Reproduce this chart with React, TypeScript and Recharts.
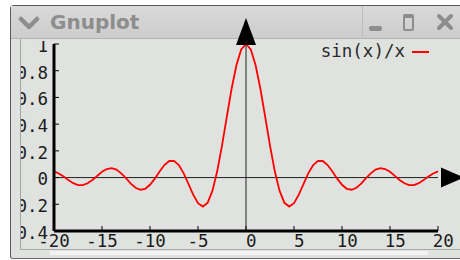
import React from 'react';
import { LineChart, Line, XAxis, YAxis, ReferenceLine, ReferenceDot } from 'recharts';

// samples of sin(x)/x
const X_VALUES = [
  -20, -19.5, -19, -18.5, -18, -17.5, -17, -16.5, -16, -15.5,
  -15, -14.5, -14, -13.5, -13, -12.5, -12, -11.5, -11, -10.5,
  -10, -9.5, -9, -8.5, -8, -7.5, -7, -6.5, -6, -5.5,
  -5, -4.5, -4, -3.5, -3, -2.5, -2, -1.5, -1, -0.5,
  0,
  0.5, 1, 1.5, 2, 2.5, 3, 3.5, 4, 4.5, 5,
  5.5, 6, 6.5, 7, 7.5, 8, 8.5, 9, 9.5, 10,
  10.5, 11, 11.5, 12, 12.5, 13, 13.5, 14, 14.5, 15,
  15.5, 16, 16.5, 17, 17.5, 18, 18.5, 19, 19.5, 20,
];
const SINC_VALUES = [
  0.046, 0.031, 0.008, -0.019, -0.042, -0.056, -0.057, -0.043, -0.018, 0.013,
  0.043, 0.064, 0.071, 0.060, 0.032, -0.005, -0.045, -0.076, -0.091, -0.084,
  -0.054, -0.008, 0.046, 0.094, 0.124, 0.125, 0.094, 0.033, -0.047, -0.128,
  -0.192, -0.217, -0.189, -0.100, 0.047, 0.239, 0.455, 0.665, 0.841, 0.959,
  1,
  0.959, 0.841, 0.665, 0.455, 0.239, 0.047, -0.100, -0.189, -0.217, -0.192,
  -0.128, -0.047, 0.033, 0.094, 0.125, 0.124, 0.094, 0.046, -0.008, -0.054,
  -0.084, -0.091, -0.076, -0.045, -0.005, 0.032, 0.060, 0.071, 0.064, 0.043,
  0.013, -0.018, -0.043, -0.057, -0.056, -0.042, -0.019, 0.008, 0.031, 0.046,
];
const X_TICKS = [-20, -15, -10, -5, 0, 5, 10, 15, 20];
const Y_TICKS = [-0.4, -0.2, 0, 0.2, 0.4, 0.6, 0.8, 1];
const SERIES_NAME = 'sin(x)/x';
const WINDOW_TITLE = 'Gnuplot';

const data = X_VALUES.map((x, i) => ({ x, y: SINC_VALUES[i] }));

const MONO = '"DejaVu Sans Mono", monospace';
const LABEL = '#1c1c1c';
const ICON = '#8d8d8d';

// gnuplot's "% h" format pads positive numbers with a space
const fmt = (v: number) => {
  const r = Math.round(v * 10) / 10;
  return r < 0 ? String(r) : '\u00a0' + r;
};

const XTick = (props: any) => {
  const { x, y, payload } = props;
  const axisY = y - 4;
  return (
    <g>
      <line x1={x} x2={x} y1={axisY} y2={axisY - 5} stroke="#000" />
      <text x={x} y={y} dy="0.71em" textAnchor="middle" fontFamily={MONO} fontSize={17.5} fill={LABEL}>
        {fmt(payload.value)}
      </text>
    </g>
  );
};

const YTick = (props: any) => {
  const { x, y, payload, index } = props;
  const axisX = x + 6;
  const id = `ylab-${index}`;
  return (
    <g>
      <defs>
        <clipPath id={id}>
          <rect x={21} y={41} width={60} height={220} />
        </clipPath>
      </defs>
      <line x1={axisX} x2={axisX + 5} y1={y} y2={y} stroke="#000" />
      <text x={x} y={y} dy="0.45em" textAnchor="end" fontFamily={MONO} fontSize={17.5} fill={LABEL} clipPath={`url(#${id})`}>
        {fmt(payload.value)}
      </text>
    </g>
  );
};

const TopTick = (props: any) => {
  const { x, y } = props;
  return <line x1={x} x2={x} y1={y} y2={y + 5} stroke="#000" />;
};

const RightTick = (props: any) => {
  const { x, y } = props;
  return <line x1={x} x2={x - 5} y1={y} y2={y} stroke="#000" />;
};

const UpArrow = (props: any) => {
  const { cx, cy } = props;
  return <polygon points={`${cx - 10},${cy + 1} ${cx + 10},${cy + 1} ${cx},${cy - 26}`} fill="#000" />;
};

const RightArrow = (props: any) => {
  const { cx, cy } = props;
  return <polygon points={`${cx + 3},${cy - 10} ${cx + 3},${cy + 10} ${cx + 26},${cy}`} fill="#000" />;
};

const abs = (s: React.CSSProperties): React.CSSProperties => ({ position: 'absolute', ...s });

export default function App() {
  return (
    <div style={abs({ left: 0, top: 0, width: 460, height: 260, background: '#fff', overflow: 'hidden' })}>
      {/* window frame */}
      <div style={abs({ left: 10, top: 5, width: 460, height: 252, background: '#dfe2df', borderLeft: '1px solid #5a5a5a', borderTop: '1px solid #5a5a5a', borderBottom: '1px solid #6a6a6a', borderTopLeftRadius: 4, borderBottomLeftRadius: 3 })} />
      <div style={abs({ left: 11, top: 6, width: 449, height: 32, background: 'linear-gradient(#d9d9d9, #cdcdcd)', borderBottom: '1px solid #b3b3b3' })} />
      <svg width={22} height={14} style={abs({ left: 18, top: 16 })}>
        <polyline points="3,3 11,11 19,3" fill="none" stroke={ICON} strokeWidth={4.5} strokeLinecap="round" strokeLinejoin="round" />
      </svg>
      <div style={abs({ left: 50, top: 8, fontFamily: '"DejaVu Sans", sans-serif', fontWeight: 'bold', fontSize: 20, lineHeight: '28px', color: ICON })}>
        {WINDOW_TITLE}
      </div>
      <div style={abs({ left: 362, top: 6, width: 1, height: 32, background: '#bdbdbd' })} />
      <div style={abs({ left: 369, top: 26, width: 13, height: 5, background: ICON, borderRadius: 2 })} />
      <div style={abs({ left: 403, top: 14, width: 7, height: 11, border: `2px solid ${ICON}`, borderTopWidth: 4, borderRadius: 2 })} />
      <svg width={18} height={18} style={abs({ left: 436, top: 13 })}>
        <path d="M3,3 L15,15 M15,3 L3,15" stroke={ICON} strokeWidth={4} strokeLinecap="round" />
      </svg>
      <div style={abs({ left: 20, top: 39, width: 1, height: 210, background: '#a3a3a3' })} />
      <div style={abs({ left: 20, top: 249, width: 440, height: 1, background: '#a8a8a8' })} />
      <div style={abs({ left: 50, top: 251, width: 378, height: 4, background: '#f2f2f2' })} />

      <div style={abs({ left: 0, top: 0 })}>
        <LineChart width={460} height={260} data={data} margin={{ top: 44, right: 22, bottom: 0, left: 14 }}>
          <XAxis
            dataKey="x"
            type="number"
            domain={[-20, 20]}
            ticks={X_TICKS}
            interval={0}
            height={29}
            tickSize={0}
            tickMargin={4}
            tickLine={false}
            axisLine={{ stroke: '#000', strokeWidth: 3 }}
            tick={<XTick />}
          />
          <XAxis
            xAxisId="top"
            orientation="top"
            type="number"
            domain={[-20, 20]}
            ticks={X_TICKS}
            interval={0}
            height={0}
            tickSize={0}
            tickMargin={0}
            tickLine={false}
            axisLine={{ stroke: '#000', strokeWidth: 3 }}
            tick={<TopTick />}
          />
          <YAxis
            type="number"
            domain={[-0.4, 1]}
            ticks={Y_TICKS}
            interval={0}
            width={40}
            tickSize={0}
            tickMargin={6}
            tickLine={false}
            axisLine={{ stroke: '#000', strokeWidth: 3 }}
            tick={<YTick />}
          />
          <YAxis
            yAxisId="right"
            orientation="right"
            type="number"
            domain={[-0.4, 1]}
            ticks={Y_TICKS}
            interval={0}
            width={0}
            tickSize={0}
            tickMargin={0}
            tickLine={false}
            axisLine={{ stroke: '#000', strokeWidth: 3 }}
            tick={<RightTick />}
          />
          <ReferenceLine x={0} stroke="#222" strokeWidth={1} />
          <ReferenceLine y={0} stroke="#222" strokeWidth={1} />
          <Line dataKey="y" type="linear" stroke="#ff0000" strokeWidth={1.8} dot={false} isAnimationActive={false} />
          <ReferenceDot x={0} y={1} ifOverflow="visible" shape={<UpArrow />} />
          <ReferenceDot x={20} y={0} ifOverflow="visible" shape={<RightArrow />} />
        </LineChart>
      </div>

      {/* key */}
      <div style={abs({ right: 55, top: 42, fontFamily: MONO, fontSize: 17.5, lineHeight: '18px', color: '#2a2a2a' })}>
        {SERIES_NAME}
      </div>
      <div style={abs({ left: 412, top: 51, width: 17, height: 2, background: '#ff0000' })} />
    </div>
  );
}
